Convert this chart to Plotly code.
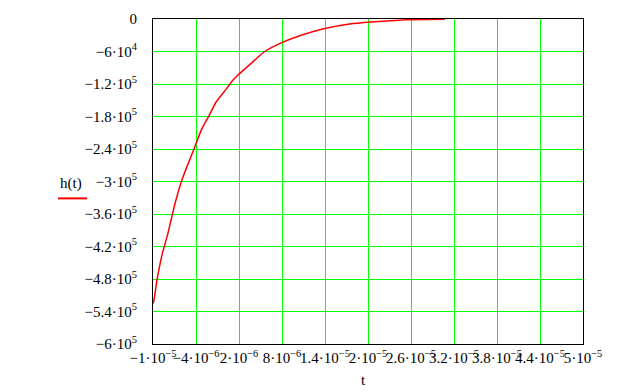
import plotly.graph_objects as go

# Curve values
t_vals = [-1.0e-5, -9.9e-6, -9.44e-6, -8.74e-6, -7.91e-6, -7.29e-6, -6.73e-6, -6.04e-6,
          -5.34e-6, -4.32e-6, -3.25e-6, -2.19e-6, -1.15e-6, 2.4e-7, 1.02e-6, 1.86e-6,
          2.79e-6, 4.19e-6, 5.59e-6, 7.82e-6, 1.047e-5, 1.382e-5, 1.745e-5, 2.047e-5,
          2.257e-5, 2.558e-5, 3.07e-5]
h_vals = [-5.25e5, -5.218e5, -4.817e5, -4.355e5, -3.954e5, -3.603e5, -3.308e5, -3.001e5,
          -2.753e5, -2.415e5, -2.046e5, -1.787e5, -1.523e5, -1.29e5, -1.15e5, -1.035e5,
          -9.25e4, -7.6e4, -6.0e4, -4.45e4, -3.09e4, -1.79e4, -9.2e3, -5.5e3,
          -3.7e3, -1.3e3, -4e2]

x_tickvals = [-1e-5, -4e-6, 2e-6, 8e-6, 1.4e-5, 2e-5, 2.6e-5, 3.2e-5, 3.8e-5, 4.4e-5, 5e-5]
x_ticktext = ["\u22121\u00b710<sup>\u22125</sup>", "\u22124\u00b710<sup>\u22126</sup>",
              "2\u00b710<sup>\u22126</sup>", "8\u00b710<sup>\u22126</sup>",
              "1.4\u00b710<sup>\u22125</sup>", "2\u00b710<sup>\u22125</sup>",
              "2.6\u00b710<sup>\u22125</sup>", "3.2\u00b710<sup>\u22125</sup>",
              "3.8\u00b710<sup>\u22125</sup>", "4.4\u00b710<sup>\u22125</sup>",
              "5\u00b710<sup>\u22125</sup>"]
y_tickvals = [0, -6e4, -1.2e5, -1.8e5, -2.4e5, -3e5, -3.6e5, -4.2e5, -4.8e5, -5.4e5, -6e5]
y_ticktext = ["0", "\u22126\u00b710<sup>4</sup>", "\u22121.2\u00b710<sup>5</sup>",
              "\u22121.8\u00b710<sup>5</sup>", "\u22122.4\u00b710<sup>5</sup>",
              "\u22123\u00b710<sup>5</sup>", "\u22123.6\u00b710<sup>5</sup>",
              "\u22124.2\u00b710<sup>5</sup>", "\u22124.8\u00b710<sup>5</sup>",
              "\u22125.4\u00b710<sup>5</sup>", "\u22126\u00b710<sup>5</sup>"]

font = dict(family="Liberation Serif", size=15, color="black")

fig = go.Figure()
fig.add_trace(go.Scatter(x=t_vals, y=h_vals, mode="lines",
                         line=dict(color="#ff0000", width=1.5, shape="spline", smoothing=0.6),
                         showlegend=False))

fig.update_layout(
    width=624, height=392,
    margin=dict(l=153, r=41, t=19, b=48, autoexpand=False),
    paper_bgcolor="white", plot_bgcolor="white",
    font=font,
    xaxis=dict(range=[-1e-5, 5e-5], tickvals=x_tickvals, ticktext=x_ticktext,
               showgrid=True, gridcolor="#00ff00", gridwidth=1, zeroline=False,
               showline=True, linecolor="black", linewidth=1, mirror=True,
               ticks="", tickangle=0, tickfont=font, automargin=False,
               layer="below traces"),
    yaxis=dict(range=[-6e5, 0], tickvals=y_tickvals, ticktext=y_ticktext,
               showgrid=True, gridcolor="#00ff00", gridwidth=1, zeroline=False,
               showline=True, linecolor="black", linewidth=1, mirror=True,
               ticks="", tickfont=font, ticklabelstandoff=12, automargin=False,
               layer="below traces"),
)

fig.add_annotation(text="t", xref="paper", yref="paper", x=0.49, y=-0.111,
                   showarrow=False, font=font, yanchor="middle")
fig.add_annotation(text="h(t)", xref="paper", yref="paper", x=-0.191, y=0.495,
                   showarrow=False, font=font, xanchor="center", yanchor="middle")
fig.add_shape(type="line", xref="paper", yref="paper", x0=-0.221, x1=-0.153,
              y0=0.448, y1=0.448, line=dict(color="#ff0000", width=2))

fig.write_html("out.html", config={"displayModeBar": False},
               post_script="document.body.style.margin='0';document.body.style.padding='0';window.dispatchEvent(new Event('resize'));")
